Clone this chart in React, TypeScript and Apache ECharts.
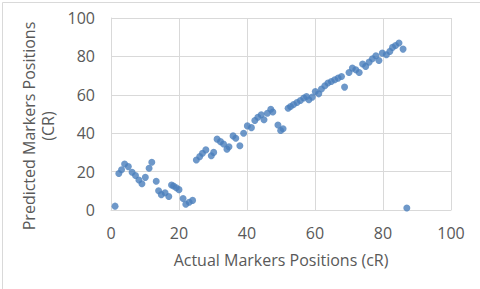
import React, { useEffect, useRef } from "react";
import * as echarts from "echarts";

const actualPositions = [
  1.2, 2.3, 3.1, 4.0, 5.1, 6.2, 7.2, 8.2, 9.1, 10.1, 11.2, 12.0, 13.3, 14.0, 14.8, 15.9, 17.0,
  17.8, 18.4, 19.2, 20.0, 21.2, 22.0, 23.0, 24.0,
  25.1, 26.1, 26.9, 27.9, 29.5, 30.2, 31.2, 32.2, 33.1, 34.1, 34.7, 35.9, 36.7, 37.9, 39.0,
  40.1, 41.3, 42.3, 43.2, 44.2, 45.0, 46.0, 47.0, 47.6, 49.1, 49.9, 50.6,
  52.1, 52.8, 53.7, 54.7, 55.7, 56.7, 57.5, 58.2, 59.2, 60.1, 61.1, 61.9, 62.9, 63.8, 64.8,
  65.8, 66.8, 67.8, 68.7, 70.0, 71.0, 72.0, 73.0, 74.0, 74.9, 75.9, 76.9, 77.9, 78.8, 79.8,
  81.0, 82.0, 82.8, 83.7, 84.7, 85.9, 87.0,
];
const predictedPositions = [
  2, 19, 21, 24, 22.6, 19.7, 18, 15.6, 13.7, 17, 21.7, 24.9, 15, 10, 8, 9, 7,
  13, 12.5, 11.6, 10.6, 6, 3, 4, 5,
  26, 27.8, 29.6, 31.3, 28.3, 30, 36.9, 35.6, 34.4, 31.7, 32.9, 38.6, 37.4, 33.5, 40,
  43.8, 42.9, 46.6, 48.3, 49.6, 47, 50.4, 52.5, 51, 44.3, 41.4, 42.3,
  53, 53.9, 54.9, 56, 57, 58.3, 59.1, 57.4, 58.8, 61.7, 60.5, 63, 64.7, 66.1, 66.9,
  67.8, 68.7, 69.5, 64, 71.6, 73.9, 73, 71.6, 76, 74.8, 77, 78.8, 80.3, 77.9, 81.7,
  80.9, 82.6, 84.7, 85.7, 87, 83.8, 1,
];
const xAxisTitle = "Actual Markers Positions (cR)";
const yAxisTitle = "Predicted Markers Positions\n(CR)";

export default function App() {
  const ref = useRef<HTMLDivElement>(null);
  useEffect(() => {
    if (!ref.current) return;
    const chart = echarts.init(ref.current, undefined, { renderer: "svg" });
    const font = "'Open Sans', sans-serif";
    const grid = "#d9d9d9";
    chart.setOption({
      animation: false,
      backgroundColor: "#ffffff",
      grid: { left: 111, right: 29, top: 18, bottom: 79 },
      xAxis: {
        type: "value",
        min: 0,
        max: 100,
        interval: 20,
        name: xAxisTitle,
        nameLocation: "middle",
        nameGap: 42,
        nameTextStyle: { color: "#595959", fontSize: 16, fontFamily: font },
        axisLine: { show: true, lineStyle: { color: grid } },
        axisTick: { show: false },
        axisLabel: { color: "#595959", fontSize: 16, fontFamily: font, margin: 15 },
        splitLine: { show: true, lineStyle: { color: grid } },
      },
      yAxis: {
        type: "value",
        min: 0,
        max: 100,
        interval: 20,
        axisLine: { show: true, lineStyle: { color: grid } },
        axisTick: { show: false },
        axisLabel: { color: "#595959", fontSize: 16, fontFamily: font, margin: 16 },
        splitLine: { show: true, lineStyle: { color: grid } },
      },
      graphic: [
        {
          type: "rect",
          left: 0,
          top: 0,
          shape: { x: 0.5, y: 0.5, width: 479, height: 288 },
          style: { fill: "none", stroke: "#d9d9d9", lineWidth: 1 },
          silent: true,
        },
        {
          type: "text",
          x: 38,
          y: 126,
          rotation: Math.PI / 2,
          style: {
            text: yAxisTitle,
            fill: "#595959",
            fontSize: 16,
            fontFamily: font,
            align: "center",
            verticalAlign: "middle",
            lineHeight: 19,
          },
        },
      ],
      series: [
        {
          type: "scatter",
          symbol: "circle",
          symbolSize: 7,
          itemStyle: { color: "#4a7ebb" },
          data: actualPositions.map((x, i) => [x, predictedPositions[i]]),
        },
      ],
    });
    return () => chart.dispose();
  }, []);
  return <div ref={ref} style={{ width: 480, height: 289, position: "absolute", left: 0, top: 0 }} />;
}
